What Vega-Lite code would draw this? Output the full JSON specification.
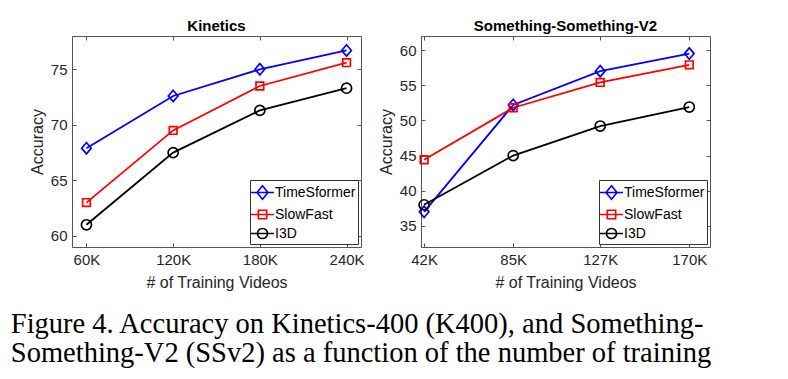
{
  "$schema": "https://vega.github.io/schema/vega-lite/v6.json",
  "background": "white",
  "padding": {"left": 10, "top": 18, "right": 5, "bottom": 5},
  "config": {
    "font": "Liberation Sans",
    "view": {"stroke": "#555", "strokeWidth": 1},
    "axis": {
      "grid": false,
      "labelFont": "Liberation Sans",
      "labelFontSize": 15,
      "labelColor": "#262626",
      "titleFont": "Liberation Sans",
      "titleFontSize": 16,
      "titleFontWeight": "normal",
      "titleColor": "#262626",
      "domainColor": "#555",
      "tickColor": "#555",
      "tickSize": -4,
      "minExtent": 0
    },
    "title": {"font": "Liberation Sans", "fontSize": 15, "fontWeight": "bold", "color": "black", "offset": 2},
    "legend": {
      "labelFont": "Liberation Sans",
      "labelFontSize": 14,
      "labelColor": "black",
      "strokeColor": "#333",
      "fillColor": "white",
      "padding": 2,
      "rowPadding": 1,
      "symbolSize": 361,
      "symbolStrokeWidth": 1.6,
      "labelOffset": 2,
      "offset": 3
    }
  },
  "title": {
    "text": ["Figure 4. Accuracy on Kinetics-400 (K400), and Something-", "Something-V2 (SSv2) as a function of the number of training"],
    "orient": "bottom",
    "anchor": "start",
    "font": "Liberation Serif",
    "fontSize": 28.5,
    "fontWeight": "normal",
    "color": "black",
    "lineHeight": 29,
    "offset": 19,
    "dx": -18
  },
  "datasets": {
    "kin": [
      {"model": "TimeSformer", "videos": 60, "acc": 67.9},
      {"model": "TimeSformer", "videos": 120, "acc": 72.6},
      {"model": "TimeSformer", "videos": 180, "acc": 75.0},
      {"model": "TimeSformer", "videos": 240, "acc": 76.7},
      {"model": "SlowFast", "videos": 60, "acc": 63.0},
      {"model": "SlowFast", "videos": 120, "acc": 69.5},
      {"model": "SlowFast", "videos": 180, "acc": 73.5},
      {"model": "SlowFast", "videos": 240, "acc": 75.6},
      {"model": "I3D", "videos": 60, "acc": 61.0},
      {"model": "I3D", "videos": 120, "acc": 67.5},
      {"model": "I3D", "videos": 180, "acc": 71.3},
      {"model": "I3D", "videos": 240, "acc": 73.3}
    ],
    "ssv2": [
      {"model": "TimeSformer", "videos": 42, "acc": 37.0},
      {"model": "TimeSformer", "videos": 85, "acc": 52.2},
      {"model": "TimeSformer", "videos": 127, "acc": 57.0},
      {"model": "TimeSformer", "videos": 170, "acc": 59.5},
      {"model": "SlowFast", "videos": 42, "acc": 44.4},
      {"model": "SlowFast", "videos": 85, "acc": 51.8},
      {"model": "SlowFast", "videos": 127, "acc": 55.4},
      {"model": "SlowFast", "videos": 170, "acc": 57.9},
      {"model": "I3D", "videos": 42, "acc": 38.0},
      {"model": "I3D", "videos": 85, "acc": 45.0},
      {"model": "I3D", "videos": 127, "acc": 49.2},
      {"model": "I3D", "videos": 170, "acc": 51.9}
    ]
  },
  "resolve": {"legend": {"color": "independent", "shape": "independent"}, "scale": {"color": "independent", "shape": "independent"}},
  "spacing": 12,
  "hconcat": [
    {
      "width": 289,
      "height": 211,
      "title": "Kinetics",
      "data": {"name": "kin"},
      "resolve": {"axis": {"x": "independent", "y": "independent"}},
      "layer": [
        {
          "mark": {"type": "line", "strokeWidth": 1.8},
          "encoding": {
            "x": {"field": "videos", "type": "quantitative", "scale": {"domain": [50, 250], "nice": false, "zero": false},
                  "axis": {"orient": "bottom", "values": [60, 120, 180, 240], "labelExpr": "datum.value + 'K'", "title": "# of Training Videos", "labelPadding": 9, "titlePadding": 7, "domain": false}},
            "y": {"field": "acc", "type": "quantitative", "scale": {"domain": [59, 78], "nice": false, "zero": false},
                  "axis": {"orient": "left", "values": [60, 65, 70, 75], "title": "Accuracy", "labelPadding": 9, "titlePadding": 5, "domain": false}},
            "color": {"field": "model", "type": "nominal", "sort": ["TimeSformer", "SlowFast", "I3D"],
                      "scale": {"domain": ["TimeSformer", "SlowFast", "I3D"], "range": ["#0000ff", "#ff0000", "#000000"]},
                      "legend": {"title": null, "orient": "bottom-right",
                        "encode": {
                          "labels": {"update": {"text": {"signal": "datum.label + '\u00a0\u00a0\u00a0'"}}},
                          "symbols": {"update": {
                          "shape": {"signal": "datum.value === 'TimeSformer' ? 'M-1.21,0L1.21,0M0,-0.71L0.58,0L0,0.71L-0.58,0Z' : datum.value === 'SlowFast' ? 'M-1.21,0L1.21,0M-0.44,-0.44L0.44,-0.44L0.44,0.44L-0.44,0.44Z' : 'M-1.21,0L1.21,0M0.53,0A0.53,0.53 0 1,1 -0.53,0A0.53,0.53 0 1,1 0.53,0Z'"},
                          "size": {"value": 361},
                          "fill": {"value": "transparent"},
                          "strokeWidth": {"value": 1.6}
                        }}}}}
          }
        },
        {
          "mark": {"type": "point", "filled": false, "strokeWidth": 1.7, "size": 144, "opacity": 1},
          "encoding": {
            "x": {"field": "videos", "type": "quantitative", "axis": {"orient": "top", "values": [60, 120, 180, 240], "labels": false, "title": null, "domain": false}},
            "y": {"field": "acc", "type": "quantitative", "axis": {"orient": "right", "values": [60, 65, 70, 75], "labels": false, "title": null, "domain": false}},
            "color": {"field": "model", "type": "nominal", "sort": ["TimeSformer", "SlowFast", "I3D"]},
            "shape": {"field": "model", "type": "nominal",
                      "scale": {"domain": ["TimeSformer", "SlowFast", "I3D", "-"], "range": ["M0,-0.95L0.8,0L0,0.95L-0.8,0Z", "M-0.64,-0.64L0.64,-0.64L0.64,0.64L-0.64,0.64Z", "M0.84,0A0.84,0.84 0 1,1 -0.84,0A0.84,0.84 0 1,1 0.84,0Z", "circle"]},
                      "legend": null}
          }
        }
      ]
    },
    {
      "width": 289,
      "height": 211,
      "title": "Something-Something-V2",
      "data": {"name": "ssv2"},
      "resolve": {"axis": {"x": "independent", "y": "independent"}},
      "layer": [
        {
          "mark": {"type": "line", "strokeWidth": 1.8},
          "encoding": {
            "x": {"field": "videos", "type": "quantitative", "scale": {"domain": [40.5, 180], "nice": false, "zero": false},
                  "axis": {"orient": "bottom", "values": [42, 85, 127, 170], "labelExpr": "datum.value + 'K'", "title": "# of Training Videos", "labelPadding": 9, "titlePadding": 7, "domain": false}},
            "y": {"field": "acc", "type": "quantitative", "scale": {"domain": [32, 62], "nice": false, "zero": false},
                  "axis": {"orient": "left", "values": [35, 40, 45, 50, 55, 60], "title": "Accuracy", "labelPadding": 9, "titlePadding": 5, "domain": false}},
            "color": {"field": "model", "type": "nominal", "sort": ["TimeSformer", "SlowFast", "I3D"],
                      "scale": {"domain": ["TimeSformer", "SlowFast", "I3D"], "range": ["#0000ff", "#ff0000", "#000000"]},
                      "legend": {"title": null, "orient": "bottom-right",
                        "encode": {
                          "labels": {"update": {"text": {"signal": "datum.label + '\u00a0\u00a0\u00a0'"}}},
                          "symbols": {"update": {
                          "shape": {"signal": "datum.value === 'TimeSformer' ? 'M-1.21,0L1.21,0M0,-0.71L0.58,0L0,0.71L-0.58,0Z' : datum.value === 'SlowFast' ? 'M-1.21,0L1.21,0M-0.44,-0.44L0.44,-0.44L0.44,0.44L-0.44,0.44Z' : 'M-1.21,0L1.21,0M0.53,0A0.53,0.53 0 1,1 -0.53,0A0.53,0.53 0 1,1 0.53,0Z'"},
                          "size": {"value": 361},
                          "fill": {"value": "transparent"},
                          "strokeWidth": {"value": 1.6}
                        }}}}}
          }
        },
        {
          "mark": {"type": "point", "filled": false, "strokeWidth": 1.7, "size": 144, "opacity": 1},
          "encoding": {
            "x": {"field": "videos", "type": "quantitative", "axis": {"orient": "top", "values": [42, 85, 127, 170], "labels": false, "title": null, "domain": false}},
            "y": {"field": "acc", "type": "quantitative", "axis": {"orient": "right", "values": [35, 40, 45, 50, 55, 60], "labels": false, "title": null, "domain": false}},
            "color": {"field": "model", "type": "nominal", "sort": ["TimeSformer", "SlowFast", "I3D"]},
            "shape": {"field": "model", "type": "nominal",
                      "scale": {"domain": ["TimeSformer", "SlowFast", "I3D", "-"], "range": ["M0,-0.95L0.8,0L0,0.95L-0.8,0Z", "M-0.64,-0.64L0.64,-0.64L0.64,0.64L-0.64,0.64Z", "M0.84,0A0.84,0.84 0 1,1 -0.84,0A0.84,0.84 0 1,1 0.84,0Z", "circle"]},
                      "legend": null}
          }
        }
      ]
    }
  ]
}
